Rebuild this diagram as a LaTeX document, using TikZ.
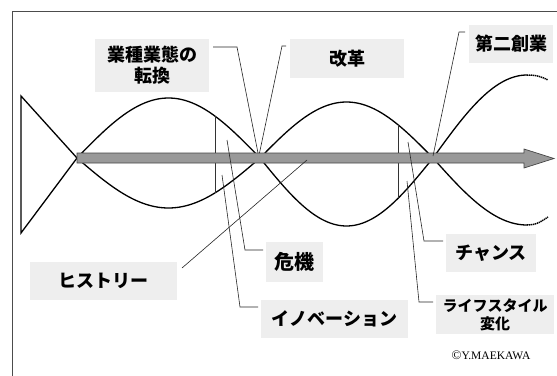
\documentclass[tikz,border=0pt]{standalone}
\usepackage{fontspec}
\setmainfont{Liberation Serif}
\newfontfamily\jp{Noto Sans CJK JP}
\definecolor{boxgray}{RGB}{238,238,238}
\definecolor{bargray}{RGB}{153,153,153}
\definecolor{edgegray}{RGB}{70,70,70}
\begin{document}
\begin{tikzpicture}[x=1pt,y=-1pt,
  lbl/.style={fill=boxgray, inner sep=0pt, align=center, font=\jp\bfseries\fontsize{18}{21}\selectfont},
  curve/.style={line width=1.3pt, line cap=round},
  leader/.style={line width=0.6pt, draw=black!85},
  vline/.style={line width=0.8pt, draw=black!80},
  dotend/.style={line width=1.5pt, dash pattern=on 1.3pt off 0.7pt}]
\useasboundingbox (0,0) rectangle (557,375);
\fill[white] (0,0) rectangle (557,375);
% frame
\draw[line width=0.8pt, black!70] (12,377) -- (12,11) -- (559,11);
% left triangle
\draw[curve, line join=miter] (21,96) -- (77,158) -- (21,233) -- cycle;
% wave A
\draw[curve] plot[domain=77:260,samples=60] (\x,{158-60*sin((\x-77)/183*180)})
  -- plot[domain=260:433,samples=60] (\x,{158+68*sin((\x-260)/173*180)})
  -- plot[domain=433:527,samples=40] (\x,{158-83*sin((\x-433)/94*90)});
\draw[dotend] (527,75) .. controls (537,75) and (542,77) .. (548,80);
% wave B
\draw[curve] plot[domain=77:260,samples=60] (\x,{158+50*sin((\x-77)/183*180)})
  -- plot[domain=260:433,samples=60] (\x,{158-56*sin((\x-260)/173*180)})
  -- plot[domain=433:527,samples=40] (\x,{158+67*sin((\x-433)/94*90)});
\draw[dotend] (527,225) .. controls (537,225) and (542,221) .. (548,217);
% vertical lines
\draw[vline] (215,116.1) -- (215,192.9);
\draw[vline] (398,124.8) -- (398,198.4);
% main arrow
\filldraw[fill=bargray, draw=edgegray, line width=0.7pt, line join=miter]
  (77,153) -- (524,153) -- (524,149) -- (554,158.5) -- (524,168) -- (524,163) -- (77,163) -- cycle;
% labels
\node[lbl, minimum width=114pt, minimum height=53pt] (gyo) at (152,65.5) {業種業態の\\転換};
\node[lbl, minimum width=114pt, minimum height=39pt] (kaikaku) at (347,58.5) {改革};
\node[lbl, minimum width=84pt, minimum height=38pt] (daini) at (511,44) {第二創業};
\node[lbl, minimum width=147pt, minimum height=38pt] (hist) at (103.5,281) {ヒストリー};
\node[lbl, minimum width=57pt, minimum height=40pt, font=\jp\bfseries\fontsize{20}{24}\selectfont] (kiki) at (294.5,262) {危機};
\node[lbl, minimum width=147pt, minimum height=38pt] (inno) at (334.5,319) {イノベーション};
\node[lbl, minimum width=90pt, minimum height=38pt] (chance) at (491,253) {チャンス};
\node[lbl, minimum width=118pt, minimum height=39pt, font=\jp\bfseries\fontsize{15}{18}\selectfont] (life) at (495,314.5) {ライフスタイル\\変化};
\node[font=\fontsize{11.5}{12}\selectfont, inner sep=0pt] (copy) at (491,355) {{\fontsize{13}{12}\selectfont ©}Y.MAEKAWA};
% leader coordinates
\coordinate (gyoA) at (213,47);
\coordinate (gyoB) at (237,47);
\coordinate (xA) at (258,153);
\coordinate (kaA) at (286,46);
\coordinate (kaB) at (282,46);
\coordinate (xB) at (259.5,153);
\coordinate (daA) at (465,32);
\coordinate (daB) at (459,32);
\coordinate (xC) at (433,156);
\coordinate (hiA) at (182,268);
\coordinate (hiB) at (307,160);
\coordinate (kiA) at (263,250);
\coordinate (kiB) at (245,250);
\coordinate (kiC) at (227,140);
\coordinate (inA) at (258,307);
\coordinate (inB) at (240,307);
\coordinate (inC) at (222,175);
\coordinate (chA) at (443,241);
\coordinate (chB) at (424,241);
\coordinate (chC) at (408,142);
\coordinate (liA) at (433,302);
\coordinate (liB) at (419,302);
\coordinate (liC) at (407,181);
% leaders
\draw[leader] (gyoA) -- (gyoB) -- (xA);
\draw[leader] (kaA) -- (kaB) -- (xB);
\draw[leader] (daA) -- (daB) -- (xC);
\draw[leader] (hiA) -- (hiB);
\draw[leader] (kiA) -- (kiB) -- (kiC);
\draw[leader] (inA) -- (inB) -- (inC);
\draw[leader] (chA) -- (chB) -- (chC);
\draw[leader] (liA) -- (liB) -- (liC);
\end{tikzpicture}
\end{document}
